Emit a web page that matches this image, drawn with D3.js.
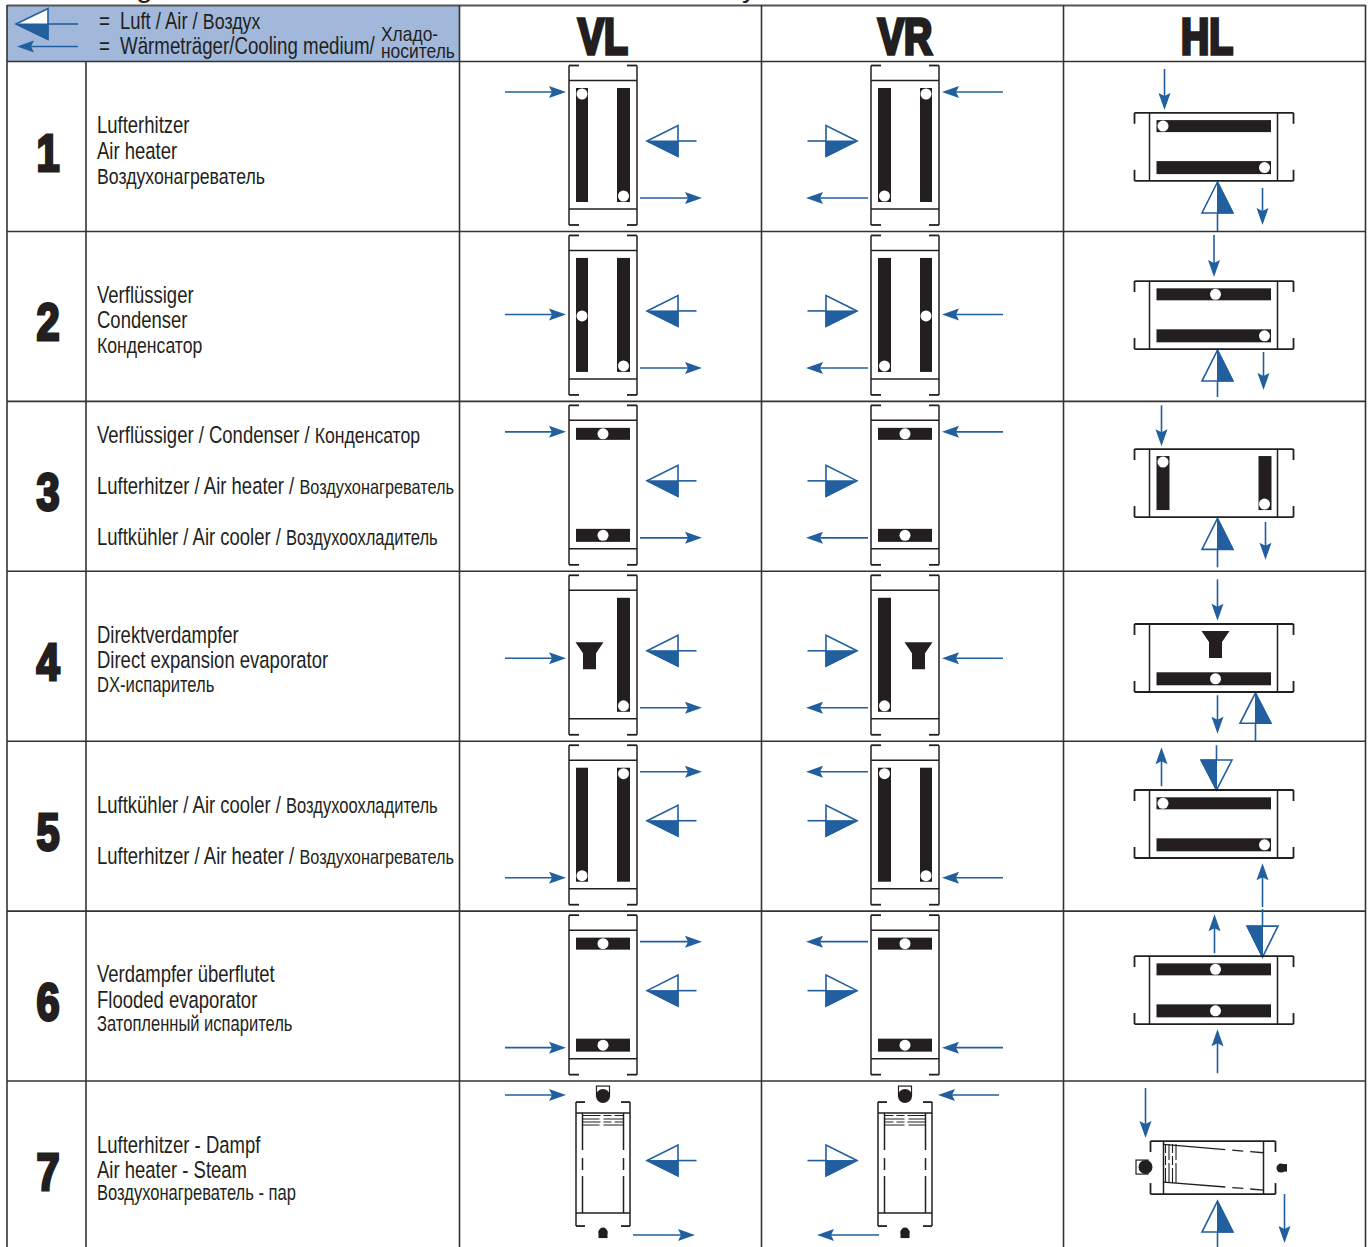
<!DOCTYPE html>
<html>
<head>
<meta charset="utf-8">
<script src="https://cdnjs.cloudflare.com/ajax/libs/d3/7.8.5/d3.min.js"></script>
<style>
  html, body { margin: 0; padding: 0; background: #fff; overflow: hidden; }
  svg { display: block; }
  text { font-family: "Liberation Sans", sans-serif; fill: #231f20; }
</style>
</head>
<body>
<div id="chart"></div>
<script>
// table content
var columnLabels = ["VL", "VR", "HL"];
var rowNumbers = ["1", "2", "3", "4", "5", "6", "7"];
var rowTexts = [
  ["Lufterhitzer", "Air heater", "Воздухонагреватель"],
  ["Verflüssiger", "Condenser", "Конденсатор"],
  ["Verflüssiger / Condenser / Конденсатор", "Lufterhitzer / Air heater / Воздухонагреватель", "Luftkühler / Air cooler / Воздухоохладитель"],
  ["Direktverdampfer", "Direct expansion evaporator", "DX-испаритель"],
  ["Luftkühler / Air cooler / Воздухоохладитель", "Lufterhitzer / Air heater / Воздухонагреватель"],
  ["Verdampfer überflutet", "Flooded evaporator", "Затопленный испаритель"],
  ["Lufterhitzer - Dampf", "Air heater - Steam", "Воздухонагреватель - пар"]
];
var legendAir = "Luft / Air / Воздух";
var legendMedium = "Wärmeträger/Cooling medium/";
var legendMediumRu = ["Хладо-", "носитель"];

// what sits in each row: coil kind, where the connection hole is
var verticalUnitCoil = ["long", "long", "short", "long", "long", "short", "steam"];
var verticalFirstHole = ["start", "mid", "mid", "fin", "end", "mid", null];
var verticalSecondHole = ["end", "end", "mid", "end", "start", "mid", null];
var verticalInletLevel = ["upper", "middle", "upper", "finLevel", "lower", "lower", "above"];
var verticalOutletLevel = ["lower", "lower", "lower", "lower", "upper", "upper", "below"];
var horizontalCoil = ["long", "long", "short", "long", "long", "long", "steam"];
var horizontalFirstHole = ["start", "mid", "start", "fin", "start", "mid", null];
var horizontalSecondHole = ["end", "end", "end", "mid", "end", "mid", null];

var width = 1371, height = 1247;
var blue = "#215f9f", ink = "#231f20", rule = "#333";
var narrow = 0.78;

var svg = d3.select("#chart").append("svg")
  .attr("width", width).attr("height", height);

var columnBand = d3.scaleBand().domain(columnLabels).range([459.5, 1365.5]);
var rowTop = d3.scaleLinear().domain([0, 7]).range([61.5, 1251]);
var levelY = d3.scaleOrdinal(
  ["upper", "middle", "finLevel", "lower", "above", "below"],
  [30.5, 83, 87, 136.5, 14, 154]);

function unitCentre(label) {
  return columnBand(label) + columnBand.bandwidth() / 2 - 7.5;
}

function line(g, x1, y1, x2, y2, w, color) {
  return g.append("line").attr("x1", x1).attr("y1", y1).attr("x2", x2).attr("y2", y2)
    .attr("stroke", color || ink).attr("stroke-width", w || 1.5);
}

// thin coolant arrow, barbed head
function coolant(g, x1, y1, x2, y2) {
  var len = Math.hypot(x2 - x1, y2 - y1), ux = (x2 - x1) / len, uy = (y2 - y1) / len;
  var px = -uy, py = ux;
  line(g, x1, y1, x2 - ux * 12, y2 - uy * 12, 1.6, blue);
  var head = d3.path();
  head.moveTo(x2, y2);
  head.lineTo(x2 - ux * 17 + px * 6, y2 - uy * 17 + py * 6);
  head.lineTo(x2 - ux * 14, y2 - uy * 14);
  head.lineTo(x2 - ux * 17 - px * 6, y2 - uy * 17 - py * 6);
  head.closePath();
  g.append("path").attr("d", head.toString()).attr("fill", blue);
}

// air arrow: half open, half filled triangle with a stem behind the base
function airArrow(g, tipX, tipY, baseX, baseY, stemX, stemY, fillSide) {
  var len = Math.hypot(baseX - tipX, baseY - tipY);
  var px = -(baseY - tipY) / len * 15.5, py = (baseX - tipX) / len * 15.5;
  var tri = [[tipX, tipY], [baseX + px, baseY + py], [baseX - px, baseY - py]];
  var fillHalf = [[tipX, tipY], [baseX, baseY], [baseX + fillSide * px, baseY + fillSide * py]];
  g.append("path").attr("d", d3.line()(tri) + "Z")
    .attr("fill", "#fff").attr("stroke", blue).attr("stroke-width", 1.6);
  g.append("path").attr("d", d3.line()(fillHalf) + "Z")
    .attr("fill", blue).attr("stroke", blue).attr("stroke-width", 1);
  line(g, baseX, baseY, stemX, stemY, 1.6, blue);
}

function bar(g, x0, y0, x1, y1) {
  g.append("rect").attr("x", x0).attr("y", y0).attr("width", x1 - x0).attr("height", y1 - y0).attr("fill", ink);
}

function hole(g, x, y) {
  g.append("circle").attr("cx", x).attr("cy", y).attr("r", 5.5).attr("fill", "#fff");
}

function funnel(g, cx, top) {
  var pts = [[-14, 0], [14, 0], [6.5, 11], [6.5, 27], [-6.5, 27], [-6.5, 11]]
    .map(function (p) { return [cx + p[0], top + p[1]]; });
  g.append("path").attr("d", d3.line()(pts) + "Z").attr("fill", ink);
}

// latin part large, cyrillic tail smaller
function richLine(sel, txt, small) {
  var m = txt.search(/(DX-)?[А-Яа-я]/);
  if (m === -1) { sel.text(txt); return; }
  sel.append("tspan").text(txt.slice(0, m));
  sel.append("tspan").style("font-size", small + "px").text(txt.slice(m));
}

function narrowText(x, y, size) {
  return svg.append("text")
    .attr("transform", "translate(" + x + "," + y + ") scale(" + narrow + ",1)")
    .style("font-size", size + "px");
}

// table frame
svg.append("rect").attr("x", 7).attr("y", 5).attr("width", 452.5).attr("height", 56.5).attr("fill", "#a1b8da");
line(svg, 7, 5.5, 1365.5, 5.5, 1.8, "#555");
rowNumbers.forEach(function (d, i) { line(svg, 7, rowTop(i), 1365.5, rowTop(i), 1.6, rule); });
[7, 86, 459.5, 761.5, 1063.5, 1365.5].forEach(function (x, i) {
  line(svg, x, i === 1 ? 61.5 : 5, x, height, 1.6, rule);
});

// clipped title above the table, only the descenders show
svg.append("text").attr("x", 136).attr("y", -3).style("font-size", "30px").text("g");
svg.append("text").attr("x", 742).attr("y", -3).style("font-size", "30px").text("y");

// legend
airArrow(svg, 16, 24, 48, 24, 78, 24, 1);
coolant(svg, 78, 46.5, 17, 46.5);
narrowText(99, 29, 24).text("=");
narrowText(99, 54, 24).text("=");
narrowText(120, 29, 23.6).call(richLine, legendAir, 22.8);
narrowText(120, 54, 24).text(legendMedium);
legendMediumRu.forEach(function (t, i) {
  svg.append("text")
    .attr("transform", "translate(381," + [41, 58][i] + ") scale(0.85,1)")
    .style("font-size", "20.5px").text(t);
});

// column heads
svg.selectAll("text.head").data(columnLabels).enter().append("text")
  .attr("class", "head")
  .attr("transform", function (d) { return "translate(" + unitCentre(d) + ",53.5) scale(0.78,1)"; })
  .attr("text-anchor", "middle")
  .style("font-size", "50px").style("font-weight", "700")
  .attr("stroke", ink).attr("stroke-width", 3.6)
  .text(function (d) { return d; });

// row numbers
svg.selectAll("text.num").data(rowNumbers).enter().append("text")
  .attr("class", "num")
  .attr("transform", function (d, i) { return "translate(48," + (rowTop(i) + 109) + ") scale(0.8,1)"; })
  .attr("text-anchor", "middle")
  .style("font-size", "52px").style("font-weight", "700")
  .attr("stroke", ink).attr("stroke-width", 3)
  .text(function (d) { return d; });

var textBaselines = [
  [71.5, 97.5, 122.5], [71.5, 97, 121.5], [41.5, 92.5, 143.5], [71.5, 97, 120.5],
  [72, 123], [71, 97, 119.5], [71.5, 97, 118.5]
];
var cyrillicSizes = [
  [0, 0, 22.7], [0, 0, 22.6], [22.6, 20.9, 21.2], [0, 0, 21.3],
  [21.2, 20.9], [0, 0, 21.2], [0, 0, 21.2]
];
rowTexts.forEach(function (lines, i) {
  lines.forEach(function (t, j) {
    narrowText(97, rowTop(i) + textBaselines[i][j], 23.7).call(richLine, t, cyrillicSizes[i][j]);
  });
});

// VL and VR are mirror images around the unit centre
function verticalUnit(i, label) {
  var cx = unitCentre(label), s = label === "VL" ? 1 : -1;
  var g = svg.append("g").attr("transform", "translate(0," + rowTop(i) + ")");
  var X = function (u) { return cx + s * u; };
  var kind = verticalUnitCoil[i];

  var airShift = s < 0 ? -4 : 0;
  airArrow(g, X(44) + airShift, 79.5, X(75) + airShift, 79.5, X(93.5) + airShift, 79.5, s > 0 ? 1 : -1);

  var inShift = kind === "steam" && s < 0 ? -4 : 0;
  var outShift = kind === "steam" ? (s > 0 ? -7 : 11) : 0;
  var yIn = levelY(verticalInletLevel[i]), yOut = levelY(verticalOutletLevel[i]);
  coolant(g, X(-98) + inShift, yIn, X(-37) + inShift, yIn);
  coolant(g, X(37) + outShift, yOut, X(99) + outShift, yOut);

  if (kind === "steam") { verticalSteam(g, X); return; }

  // housing
  line(g, X(-34), 4, X(-34), 163.5); line(g, X(34), 4, X(34), 163.5);
  line(g, X(-34), 19, X(34), 19); line(g, X(-34), 147.5, X(34), 147.5);
  [[-34, -24], [24, 34]].forEach(function (t) {
    line(g, X(t[0]), 4, X(t[1]), 4, 1.8);
    line(g, X(t[0]), 163.5, X(t[1]), 163.5, 1.8);
  });

  var holeY = d3.scaleOrdinal(["start", "mid", "end"], [32.5, 84.5, 134.5]);
  var first = verticalFirstHole[i], second = verticalSecondHole[i];
  if (kind === "long") {
    if (first === "fin") {
      funnel(g, X(-13.5), 71);
    } else {
      bar(g, Math.min(X(-27), X(-15)), 26.5, Math.max(X(-27), X(-15)), 140.5);
      hole(g, X(-21), holeY(first));
    }
    bar(g, Math.min(X(14), X(27)), 26.5, Math.max(X(14), X(27)), 140.5);
    hole(g, X(20.5), holeY(second));
  } else {
    bar(g, cx - 27, 26.5, cx + 27, 38.5);
    bar(g, cx - 27, 127.5, cx + 27, 140.5);
    hole(g, cx, 32.5);
    hole(g, cx, 134);
  }
}

function verticalSteam(g, X) {
  line(g, X(-27), 21, X(-27), 145); line(g, X(27), 21, X(27), 145);
  line(g, X(-27), 32, X(27), 32); line(g, X(-27), 132, X(27), 132);
  [[-27, -18], [18, 27]].forEach(function (t) {
    line(g, X(t[0]), 21, X(t[1]), 21, 1.8);
    line(g, X(t[0]), 145, X(t[1]), 145, 1.8);
  });
  [-20.5, 20.5].forEach(function (u) {
    [[32, 69], [77, 89], [95, 132]].forEach(function (t) { line(g, X(u), t[0], X(u), t[1]); });
  });
  [34.5, 38, 41, 44].forEach(function (y, k) {
    line(g, X(-20.5), y, X(20.5), y, 1.1).attr("stroke-dasharray", k % 2 ? "17,4,20" : "18,3,8,3,9");
  });
  g.append("rect").attr("x", X(0) - 6.5).attr("y", 5).attr("width", 13).attr("height", 10)
    .attr("fill", "#fff").attr("stroke", ink).attr("stroke-width", 1.2);
  g.append("circle").attr("cx", X(0)).attr("cy", 15).attr("r", 7).attr("fill", ink);
  g.append("rect").attr("x", X(0) - 4.5).attr("y", 150).attr("width", 9).attr("height", 7).attr("fill", ink);
  g.append("circle").attr("cx", X(0)).attr("cy", 151).attr("r", 4.5).attr("fill", ink);
}

var hlBoxTop = [51.3, 49.6, 47.7, 52.7, 48.8, 44.9, 60];
// dx from box centre, then y start / y end inside the row, tip last
var hlInlet = [[-49.5, 7.5, 48.5], [0, 3.5, 45.5], [-52.5, 4, 45], [3.5, 8, 49.5], [48.5, 165.8, 122], [3.5, 162, 118], [-68.5, 7, 57]];
var hlOutlet = [[48.5, 126.5, 163.5], [49.5, 120.5, 158.5], [51.5, 120.5, 158.5], [3.5, 124, 162.5], [-52.5, 45, 6], [0.5, 42, 3], [70.5, 113, 162]];
// dx, tip, base, stem end
var hlAir = [[3.5, 120.5, 151.5, 169.5], [3.5, 118.6, 149.6, 165.6], [3.5, 117, 148, 166], [41.5, 121.7, 152, 169.7],
  [2.5, 48.8, 18.8, 4], [48.5, 46, 15, -2], [3.5, 120, 151, 168]];

function horizontalUnit(i) {
  var cx = unitCentre("HL") + 7;
  var g = svg.append("g").attr("transform", "translate(" + cx + "," + rowTop(i) + ")");
  var a = hlAir[i];
  airArrow(g, a[0], a[1], a[0], a[2], a[0], a[3], -1);
  [hlInlet[i], hlOutlet[i]].forEach(function (c) { coolant(g, c[0], c[1], c[0], c[2]); });

  var top = hlBoxTop[i], kind = horizontalCoil[i];
  if (kind === "steam") { horizontalSteam(g, top); return; }

  var bot = top + 68;
  line(g, -79.5, top, 79.5, top, 1.8); line(g, -79.5, bot, 79.5, bot, 1.8);
  line(g, -64.5, top, -64.5, bot); line(g, 63.5, top, 63.5, bot);
  [-79.5, 79.5].forEach(function (x) {
    line(g, x, top, x, top + 11, 1.8); line(g, x, bot - 11, x, bot, 1.8);
  });

  var holeX = d3.scaleOrdinal(["start", "mid", "end"], [-51, 1.5, 50.5]);
  var first = horizontalFirstHole[i], second = horizontalSecondHole[i];
  if (kind === "short") {
    bar(g, -57.5, top + 7, -44.5, top + 61); hole(g, -51, top + 13);
    bar(g, 44.5, top + 7, 57.5, top + 61); hole(g, 50.5, top + 55);
    return;
  }
  if (first === "fin") {
    funnel(g, 1.5, top + 7);
  } else {
    bar(g, -57.5, top + 7.3, 57, top + 19.3);
    hole(g, holeX(first), top + 13.3);
  }
  bar(g, -57.5, top + 48.3, 57, top + 61.3);
  hole(g, holeX(second), top + 54.8);
}

function horizontalSteam(g, top) {
  var bot = top + 53;
  line(g, -63.5, top, 61.5, top, 1.8); line(g, -63.5, bot, 61.5, bot, 1.8);
  line(g, -50.5, top, -50.5, bot); line(g, 49.5, top, 49.5, bot);
  [-63.5, 61.5].forEach(function (x) {
    line(g, x, top, x, top + 11, 1.8); line(g, x, bot - 11, x, bot, 1.8);
  });
  [[3.3, 11.7], [41, 49]].forEach(function (y) {
    line(g, -50.5, top + y[0], 49.5, top + y[1], 1.3).attr("stroke-dasharray", "62,7,11,7,14");
  });
  [-48.5, -45, -41.5, -38].forEach(function (x, k) {
    line(g, x, top + 3, x, top + 42, 1.1).attr("stroke-dasharray", k % 2 ? "16,3,20" : "9,3,9,3,15");
  });
  g.append("rect").attr("x", -78).attr("y", top + 19).attr("width", 12).attr("height", 14)
    .attr("fill", "#fff").attr("stroke", ink).attr("stroke-width", 1.2);
  g.append("circle").attr("cx", -68.5).attr("cy", top + 26).attr("r", 7).attr("fill", ink);
  g.append("rect").attr("x", 66).attr("y", top + 23).attr("width", 7).attr("height", 7.5).attr("fill", ink);
  g.append("circle").attr("cx", 67).attr("cy", top + 27).attr("r", 4.5).attr("fill", ink);
}

rowNumbers.forEach(function (d, i) {
  verticalUnit(i, "VL");
  verticalUnit(i, "VR");
  horizontalUnit(i);
});
</script>
</body>
</html>
